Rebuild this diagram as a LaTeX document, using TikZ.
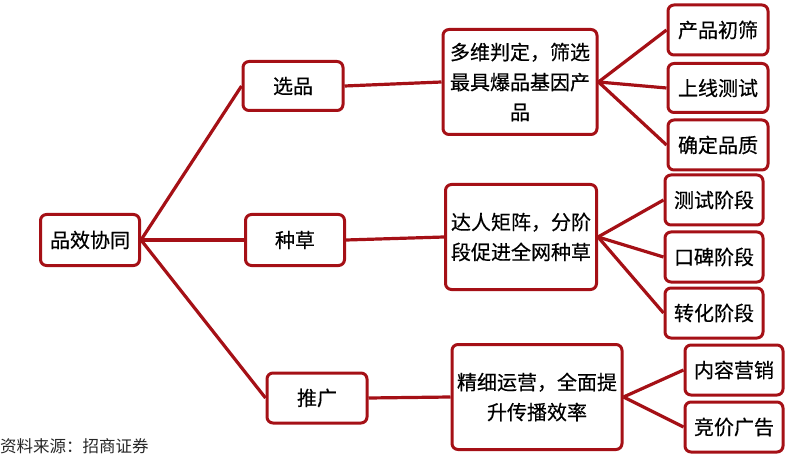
\documentclass[tikz,border=0pt]{standalone}
\usepackage{fontspec}
\setmainfont{Noto Sans CJK SC}[FakeBold=0.4]
\newfontfamily\plainfont{Noto Sans CJK SC}
\definecolor{dred}{RGB}{165,16,22}
\begin{document}
\begin{tikzpicture}[x=1pt,y=-1pt,
  box/.style={draw=dred, line width=3pt, rounded corners=6pt, fill=white,
    inner sep=0pt, align=center, font=\fontsize{20}{30}\selectfont},
  link/.style={draw=dred, line width=3.2pt}]
\useasboundingbox (0,0) rectangle (789,462);
% nodes
\node[box, minimum width=99pt, minimum height=51pt] (root) at (90,240) {品效协同};
\node[box, minimum width=100pt, minimum height=49pt] (xp) at (293,86) {选品};
\node[box, minimum width=99pt, minimum height=51pt] (zc) at (295,240) {种草};
\node[box, minimum width=100pt, minimum height=50pt] (tg) at (317,398) {推广};
\node[box, minimum width=154pt, minimum height=105pt] (m1) at (520,82) {多维判定，筛选\\最具爆品基因产\\品};
\node[box, minimum width=151pt, minimum height=105pt] (m2) at (521,237) {达人矩阵，分阶\\段促进全网种草};
\node[box, minimum width=170pt, minimum height=105pt] (m3) at (537,397) {精细运营，全面提\\升传播效率};
\node[box, minimum width=100pt, minimum height=50pt] (l1) at (718,30) {产品初筛};
\node[box, minimum width=100pt, minimum height=49pt] (l2) at (718,88) {上线测试};
\node[box, minimum width=100pt, minimum height=50pt] (l3) at (718,145) {确定品质};
\node[box, minimum width=98pt, minimum height=50pt] (l4) at (714,200) {测试阶段};
\node[box, minimum width=98pt, minimum height=50pt] (l5) at (714,257) {口碑阶段};
\node[box, minimum width=98pt, minimum height=50pt] (l6) at (714,313) {转化阶段};
\node[box, minimum width=98pt, minimum height=50pt] (l7) at (734,370) {内容营销};
\node[box, minimum width=98pt, minimum height=50pt] (l8) at (734,427) {竞价广告};
\node[anchor=west, inner sep=0pt, text=black!85, font=\plainfont\fontsize{16.5}{18}\selectfont] (src) at (0,446) {资料来源：招商证券};
% connectors
\path[link] (root.east) -- (xp.west);
\path[link] (root.east) -- (zc.west);
\path[link] (root.east) -- (tg.west);
\path[link] (xp.east) -- (m1.west);
\path[link] (zc.east) -- (m2.west);
\path[link] (tg.east) -- (m3.west);
\path[link] (m1.east) -- (l1.west);
\path[link] (m1.east) -- (l2.west);
\path[link] (m1.east) -- (l3.west);
\path[link] (m2.east) -- (l4.west);
\path[link] (m2.east) -- (l5.west);
\path[link] (m2.east) -- (l6.west);
\path[link] (m3.east) -- (l7.west);
\path[link] (m3.east) -- (l8.west);
\end{tikzpicture}
\end{document}
